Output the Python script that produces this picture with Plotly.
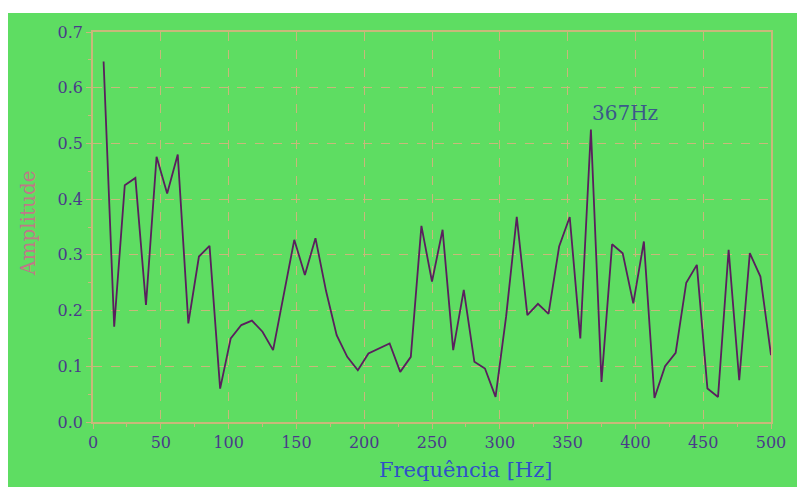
import plotly.graph_objects as go

freqs = [7.8125, 15.625, 23.4375, 31.25, 39.0625, 46.875, 54.6875, 62.5,
         70.3125, 78.125, 85.9375, 93.75, 101.5625, 109.375, 117.1875, 125.0,
         132.8125, 140.625, 148.4375, 156.25, 164.0625, 171.875, 179.6875, 187.5,
         195.3125, 203.125, 210.9375, 218.75, 226.5625, 234.375, 242.1875, 250.0,
         257.8125, 265.625, 273.4375, 281.25, 289.0625, 296.875, 304.6875, 312.5,
         320.3125, 328.125, 335.9375, 343.75, 351.5625, 359.375, 367.1875, 375.0,
         382.8125, 390.625, 398.4375, 406.25, 414.0625, 421.875, 429.6875, 437.5,
         445.3125, 453.125, 460.9375, 468.75, 476.5625, 484.375, 492.1875, 500.0]

amplitudes = [0.647, 0.171, 0.425, 0.438, 0.210, 0.476, 0.410, 0.480,
              0.177, 0.297, 0.316, 0.060, 0.150, 0.174, 0.182, 0.162,
              0.129, 0.231, 0.327, 0.264, 0.330, 0.235, 0.156, 0.117,
              0.093, 0.123, 0.132, 0.141, 0.090, 0.117, 0.352, 0.252,
              0.345, 0.129, 0.237, 0.108, 0.096, 0.045, 0.190, 0.368,
              0.192, 0.212, 0.194, 0.315, 0.368, 0.150, 0.525, 0.072,
              0.319, 0.303, 0.213, 0.324, 0.043, 0.100, 0.124, 0.250,
              0.282, 0.060, 0.045, 0.309, 0.075, 0.303, 0.261, 0.120]

x_ticks = [0, 50, 100, 150, 200, 250, 300, 350, 400, 450, 500]
y_ticks = [0.0, 0.1, 0.2, 0.3, 0.4, 0.5, 0.6, 0.7]

peak_label = "367Hz"
peak_label_pos = (392, 0.555)

GREEN = "#5EDD62"
TAN = "#C8B87A"
LINE = "#5A1F5E"
TICKC = "#4A3A8A"

fig = go.Figure()
fig.add_trace(go.Scatter(x=freqs, y=amplitudes, mode="lines",
                         line=dict(color=LINE, width=1.8), showlegend=False))

axis_common = dict(showline=True, linecolor=TAN, linewidth=1.5, mirror=True,
                   showgrid=True, gridcolor=TAN, griddash="dash", gridwidth=1,
                   zeroline=False, ticks="outside", tickcolor=TAN, ticklen=5,
                   tickfont=dict(family="DejaVu Serif", size=16, color=TICKC))

fig.update_xaxes(range=[0, 500], tickvals=x_ticks, ticktext=[str(v) for v in x_ticks],
                 minor=dict(dtick=25, ticks="outside", ticklen=3, tickcolor=TAN, showgrid=False),
                 **axis_common)
fig.update_yaxes(range=[0, 0.7], tickvals=y_ticks, ticktext=[f"{v:.1f}" for v in y_ticks],
                 minor=dict(dtick=0.05, ticks="outside", ticklen=3, tickcolor=TAN, showgrid=False),
                 **axis_common)

fig.add_annotation(x=peak_label_pos[0], y=peak_label_pos[1], text=peak_label, showarrow=False,
                   font=dict(family="DejaVu Serif", size=20, color="#3A5A8A"))
fig.add_annotation(xref="paper", yref="paper", x=0.55, y=-0.123, text="Frequência [Hz]",
                   showarrow=False, yanchor="middle",
                   font=dict(family="DejaVu Serif", size=21, color="#3050C8"))
fig.add_annotation(xref="paper", yref="paper", x=-0.096, y=0.51, text="Amplitude",
                   showarrow=False, textangle=-90, xanchor="center", yanchor="middle",
                   font=dict(family="DejaVu Serif", size=20, color="#C07888"))

# thin white strip at the top edge
fig.add_shape(type="rect", xref="paper", yref="paper", x0=-0.2, x1=1.1,
              y0=1 + 19 / 390, y1=1.2, fillcolor="white", line=dict(width=0), layer="below")

fig.update_layout(width=805, height=487, paper_bgcolor=GREEN, plot_bgcolor=GREEN,
                  margin=dict(l=85, r=42, t=24, b=73))

fig.write_html("out.html")
